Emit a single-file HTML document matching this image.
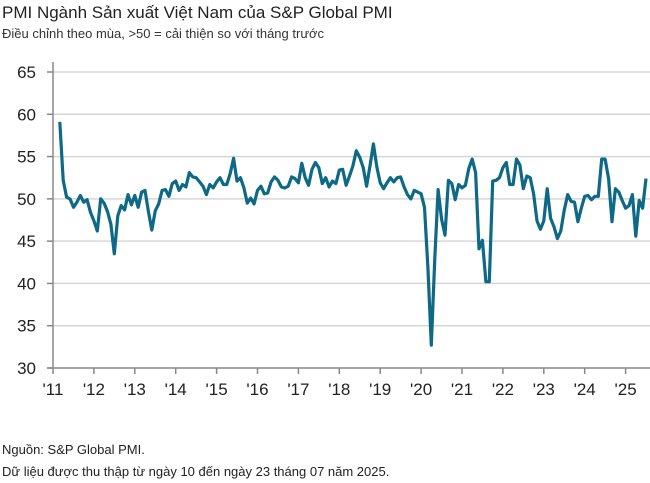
<!DOCTYPE html>
<html><head><meta charset="utf-8"><style>
body{margin:0;background:#fff;width:650px;height:483px;overflow:hidden;font-family:"Liberation Sans",sans-serif}
.t{position:absolute;left:2px;white-space:nowrap}
</style></head><body>
<div class="t" style="top:3px;font-size:17px;color:#222">PMI Ngành Sản xuất Việt Nam của S&amp;P Global PMI</div>
<div class="t" style="top:26px;font-size:13px;color:#333">Điều chỉnh theo mùa, &gt;50 = cải thiện so với tháng trước</div>
<svg id="c" width="650" height="483" style="position:absolute;left:0;top:0"></svg>
<div class="t" style="top:442px;font-size:13px;color:#222">Nguồn: S&amp;P Global PMI.</div>
<div class="t" style="top:464px;font-size:13px;color:#222">Dữ liệu được thu thập từ ngày 10 đến ngày 23 tháng 07 năm 2025.</div>
<script>
const startYear=2011, startMonth=2;
const yTicks=[30,35,40,45,50,55,60,65];
const xLabels=["'11","'12","'13","'14","'15","'16","'17","'18","'19","'20","'21","'22","'23","'24","'25"];
const pmi=[59.1,52.2,50.2,50.0,49.0,49.6,50.4,49.6,49.9,48.4,
47.4,46.2,50.0,49.5,48.5,47.0,43.5,48.0,49.2,48.7,50.5,49.3,
50.4,49.0,50.8,51.0,48.5,46.3,48.6,49.4,51.0,51.1,50.3,51.8,
52.1,51.0,51.7,51.4,53.1,52.6,52.5,52.0,51.5,50.5,51.7,51.3,
52.0,52.5,51.7,51.7,53.0,54.8,52.1,52.5,51.3,49.5,50.1,49.4,
51.0,51.5,50.6,50.7,52.0,52.6,52.2,51.4,51.3,51.5,52.6,52.4,
51.9,54.2,52.5,51.6,53.5,54.3,53.7,51.8,52.5,51.4,52.1,51.8,
53.4,53.5,51.6,52.7,53.9,55.7,54.9,53.7,51.5,53.9,56.5,53.8,
51.9,51.2,51.9,52.5,52.0,52.5,52.6,51.4,50.5,50.0,51.0,50.8,
50.6,49.0,41.9,32.7,42.7,51.1,47.6,45.7,52.2,51.8,49.9,51.7,
51.3,51.6,53.6,54.7,53.1,44.1,45.1,40.2,40.2,52.1,52.2,52.5,
53.7,54.3,51.7,51.7,54.7,54.0,51.2,52.7,52.5,50.6,47.4,46.4,
47.4,51.2,47.7,46.7,45.3,46.2,48.7,50.5,49.7,49.6,47.3,48.9,
50.3,50.4,49.9,50.3,50.3,54.7,54.7,52.4,47.3,51.2,50.8,49.8,
48.9,49.2,50.5,45.6,49.8,48.9,52.4];
const NS="http://www.w3.org/2000/svg",svg=document.getElementById('c');
const X0=53,MPX=40.9/12,Y0=368,YPX=296/35;
const xs=i=>X0+(startMonth+i)*MPX, ys=v=>Y0-(v-30)*YPX;
function mk(t,a){const e=document.createElementNS(NS,t);for(const k in a)e.setAttribute(k,a[k]);svg.appendChild(e);return e;}
yTicks.forEach(v=>{
 if(v>30){const g=mk('line',{x1:X0,x2:650,y1:ys(v),y2:ys(v),stroke:'#d6d6d6','stroke-width':1.5});
 
 }
 const tk=mk('line',{x1:X0-6,x2:X0,y1:ys(v),y2:ys(v),stroke:'#888','stroke-width':1.5});
 
 
 const t=mk('text',{x:36,y:ys(v)+6,'text-anchor':'end','font-size':17,fill:'#222','font-family':'Liberation Sans,sans-serif'});
 t.textContent=v;
 
 
});
const ax=mk('line',{x1:X0,x2:X0,y1:62,y2:Y0,stroke:'#888','stroke-width':1.5});


const bx=mk('line',{x1:X0-6,x2:650,y1:Y0,y2:Y0,stroke:'#888','stroke-width':1.5});


xLabels.forEach((l,i)=>{
 const x=X0+i*40.9;
 const tk=mk('line',{x1:x,x2:x,y1:Y0,y2:Y0+6,stroke:'#888','stroke-width':1.5});
 
 
 const t=mk('text',{x:x,y:Y0+27,'text-anchor':'middle','font-size':17,fill:'#222','font-family':'Liberation Sans,sans-serif'});
 t.textContent=l;
 
 
});
const p=mk('polyline',{points:pmi.map((v,i)=>xs(i).toFixed(1)+','+ys(v).toFixed(1)).join(' '),fill:'none',stroke:'#0d6985','stroke-width':3.2,'stroke-linejoin':'round'});


</script>
</body></html>
